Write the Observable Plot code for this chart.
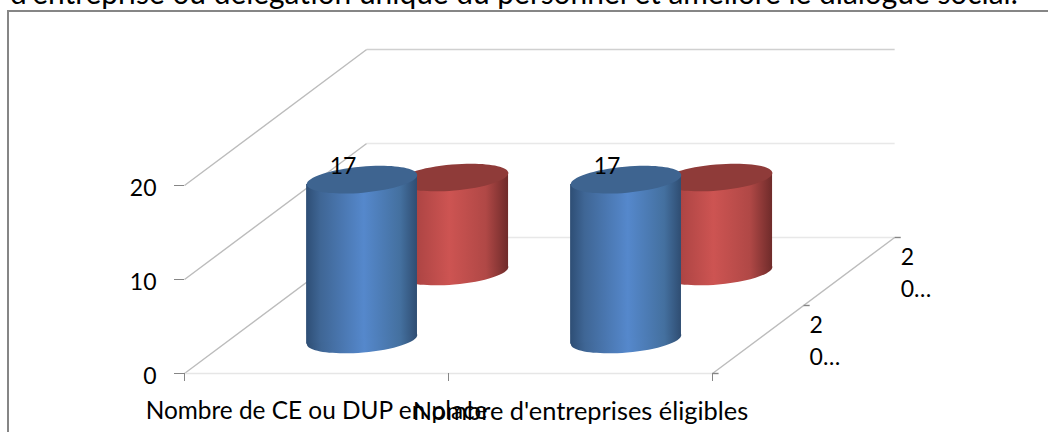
<!DOCTYPE html>
<html><head><meta charset="utf-8">
<script src="https://cdn.jsdelivr.net/npm/d3@7"></script>
<script src="https://cdn.jsdelivr.net/npm/@observablehq/plot@0.6"></script>
<style>
html,body{margin:0;padding:0;background:#fff;overflow:hidden}
body{width:1048px;height:432px;position:relative;font-family:Lato,"Open Sans",sans-serif;color:#000}
#title{height:10px;overflow:hidden;position:relative}
#title span{position:absolute;left:10px;top:-24px;font-size:29.9px;line-height:32px;white-space:nowrap}
#chart{position:relative;height:422px;box-sizing:border-box;margin-left:7px;border-left:2px solid #868686;border-top:2px solid #868686}
#chart svg{position:absolute;left:-9px;top:-1px;width:1048px!important;max-width:none!important;height:421px!important}
</style></head><body>
<div id="title"><span></span></div>
<div id="chart"></div>
<script>
const titleText = "d'entreprise ou délégation unique du personnel et améliore le dialogue social.";
const categories = ["Nombre de CE ou DUP en place", "Nombre d'entreprises éligibles"];
const seriesLabels = ["2\n0…", "2\n0…"];
const seriesFront = [17, 17];
const seriesBack = [10, 10];
const valueTicks = [0, 10, 20];
const seriesDepth = [0.25, 0.75];
const depthTicks = [0, 0.5, 1];

// oblique projection of the chart's depth axis, in x/y data units
const depthX = 0.69, depthY = 14.47;
const halfWidth = 0.21, tilt = 0.5;
const pxPerX = 264;
const fx = (cat, d) => cat + d * depthX;
const fy = (v, d) => v + d * depthY;

function ellipse(ratio, angle) {
  return {draw(p, size) {
    const rx = Math.sqrt(size / Math.PI), ry = rx * ratio, k = 0.5523;
    const c = Math.cos(angle), s = Math.sin(angle);
    const R = (x, y) => [x * c - y * s, x * s + y * c];
    p.moveTo(...R(rx, 0));
    p.bezierCurveTo(...R(rx, k * ry), ...R(k * rx, ry), ...R(0, ry));
    p.bezierCurveTo(...R(-k * rx, ry), ...R(-rx, k * ry), ...R(-rx, 0));
    p.bezierCurveTo(...R(-rx, -k * ry), ...R(-k * rx, -ry), ...R(0, -ry));
    p.bezierCurveTo(...R(k * rx, -ry), ...R(rx, -k * ry), ...R(rx, 0));
    p.closePath();
  }};
}
const disc = ellipse(0.235, -5 * Math.PI / 180);
const R = halfWidth * pxPerX;

const cylinders = (values, d) => values.map((v, i) => ({id: i, cx: fx(i + 0.5, d), base: fy(0, d), top: fy(v, d), v}));
const sides = cs => cs.flatMap(c => [
  {id: c.id, x: c.cx - halfWidth, y1: c.base - tilt, y2: c.top - tilt},
  {id: c.id, x: c.cx + halfWidth, y1: c.base + tilt, y2: c.top + tilt}
]);
function cylinderMarks(cs, grad, topColor) {
  return [
    Plot.dot(cs, {x: "cx", y: "base", r: R, symbol: disc, fill: `url(#${grad})`, stroke: "none"}),
    Plot.area(sides(cs), {x1: "x", y1: "y1", y2: "y2", z: "id", fill: `url(#${grad})`}),
    Plot.dot(cs, {x: "cx", y: "top", r: R, symbol: disc, fill: topColor, stroke: "none"})
  ];
}

function gradients() {
  const defs = d3.create("svg:defs");
  const add = (id, stops) => {
    const g = defs.append("linearGradient").attr("id", id).attr("x1", 0).attr("x2", 1).attr("y1", 0).attr("y2", 0);
    stops.forEach(([o, c]) => g.append("stop").attr("offset", o).attr("stop-color", c));
  };
  add("gBlue", [[0, "#2e4e75"], [0.13, "#3f6695"], [0.52, "#5588cc"], [0.85, "#44709f"], [1, "#2f4d72"]]);
  add("gRed", [[0, "#8a3836"], [0.2, "#b04645"], [0.47, "#cd5452"], [0.8, "#b04846"], [1, "#6f2b2a"]]);
  return defs.node();
}

document.querySelector("#title span").textContent = titleText;

const wall = valueTicks.map(v => ({v}));
const front = cylinders(seriesFront, seriesDepth[0]);
const back = cylinders(seriesBack, seriesDepth[1]);
const fontFamily = "Lato";
const fs = 23;
const depthTickLen = 0.023;
const categorySizes = [24.4, 25.4];

const plot = Plot.plot({
  width: 1048, height: 421,
  marginLeft: 184, marginRight: 336, marginTop: 174, marginBottom: 59,
  style: {background: "transparent", fontFamily, color: "#000"},
  x: {domain: [0, 2], axis: null},
  y: {domain: [0, 20], axis: null},
  marks: [
    gradients,
    // side wall lines
    Plot.link(wall, {x1: () => 0, y1: "v", x2: () => fx(0, 1), y2: d => fy(d.v, 1), stroke: "#bcbcbc", strokeWidth: 1.4}),
    // back wall lines
    Plot.link(wall, {x1: () => fx(0, 1), y1: d => fy(d.v, 1), x2: () => fx(2, 1), y2: d => fy(d.v, 1), stroke: d => d.v === 20 ? "#d0d0d0" : "#e8e8e8", strokeWidth: 1.6}),
    // floor
    Plot.link([0], {x1: () => 0, y1: () => 0, x2: () => 2, y2: () => 0, stroke: "#e6e6e6", strokeWidth: 1.6}),
    Plot.link([0], {x1: () => 2, y1: () => 0, x2: () => fx(2, 1), y2: () => fy(0, 1), stroke: "#bcbcbc", strokeWidth: 1.4}),
    // depth axis ticks & labels
    Plot.link(depthTicks, {x1: d => fx(2, d), x2: d => fx(2, d) + depthTickLen, y1: d => fy(0, d), y2: d => fy(0, d), stroke: "#868686", strokeWidth: 1.4}),
    Plot.text(seriesLabels, {
      x: (d, i) => fx(2, depthTicks[i + 1]), y: (d, i) => fy(0, depthTicks[i + 1]),
      text: d => d, textAnchor: "start", lineAnchor: "top", dx: 6, dy: 4, fontSize: fs, lineHeight: 1.42, fill: "#000"
    }),
    // cylinders, back series first
    ...cylinderMarks(back, "gRed", "#8f3b39"),
    ...cylinderMarks(front, "gBlue", "#3e6490"),
    // value labels
    Plot.text(front, {x: "cx", y: "top", text: d => String(d.v), dx: -19, dy: -13, fontSize: fs, fill: "#000"}),
    // axes
    Plot.axisY({ticks: valueTicks, tickSize: 10, tickFormat: () => "", stroke: "#868686", label: null}),
    Plot.axisY({ticks: valueTicks, tickSize: 0, tickPadding: 28, fontSize: fs, fill: "#000", dy: 3, label: null, tickFormat: d => d}),
    Plot.axisX({ticks: [0, 1, 2], tickSize: 8, tickFormat: () => "", stroke: "#868686", label: null}),
    Plot.text(categories, {x: (d, i) => i + 0.5, y: () => 0, text: d => d, dy: 38, fontSize: (d, i) => categorySizes[i], fill: "#000"})
  ]
});
document.getElementById("chart").appendChild(plot);
</script>
</body></html>
